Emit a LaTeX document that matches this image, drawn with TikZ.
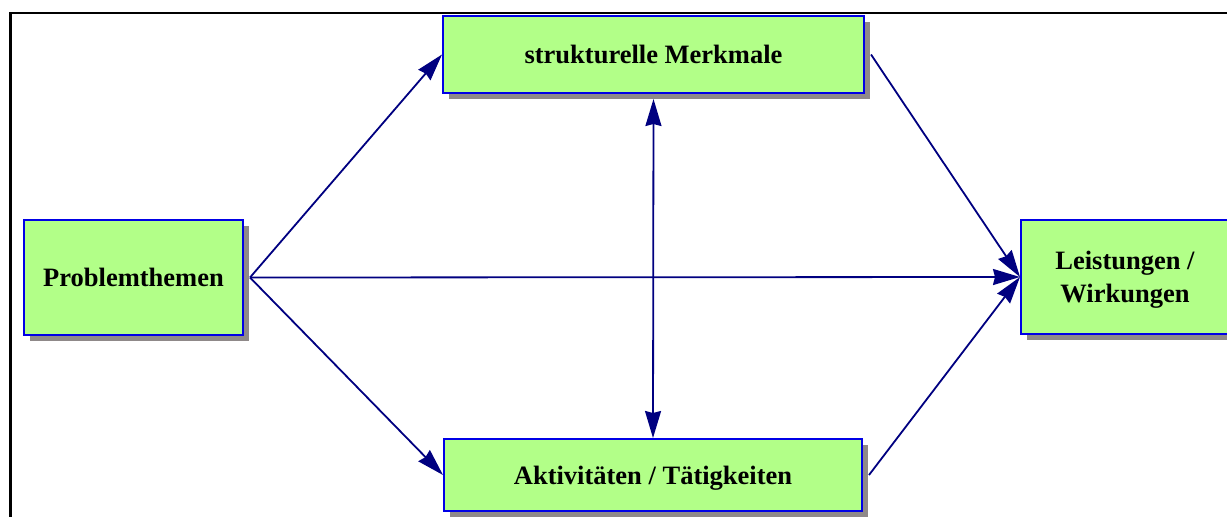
\documentclass[tikz,border=0pt]{standalone}
\usepackage{fontspec}
\setmainfont{Liberation Serif}
\usetikzlibrary{arrows.meta,shadows}
\definecolor{boxgreen}{RGB}{178,255,136}
\definecolor{boxblue}{RGB}{0,0,230}
\definecolor{shadowgray}{RGB}{143,137,137}
\definecolor{arrownavy}{RGB}{0,0,128}
\tikzset{
  box/.style={draw=boxblue, line width=2pt, fill=boxgreen, inner sep=0pt, align=center,
    text depth=0pt,
    font=\fontsize{26.5}{33}\selectfont\bfseries,
    general shadow={fill=shadowgray, shadow xshift=6pt, shadow yshift=-6pt}},
  conn/.style={draw=arrownavy, line width=1.8pt, -{Stealth[length=27pt,width=16pt,inset=2pt]}},
  dconn/.style={draw=arrownavy, line width=1.8pt,
    {Stealth[length=27pt,width=16pt,inset=2pt]}-{Stealth[length=27pt,width=16pt,inset=2pt]}},
  frame/.style={draw=black, line width=2.5pt}
}
\begin{document}
\begin{tikzpicture}[x=1pt,y=-1pt]
\useasboundingbox (0,0) rectangle (1227,517);
\draw[frame] (10.5,530) -- (10.5,13) -- (1240,13);
\node[box, minimum width=219pt, minimum height=115pt] (P) at (133.5,277.5) {Problemthemen};
\node[box, minimum width=421pt, minimum height=77pt] (S) at (653.5,54.5) {strukturelle Merkmale};
\node[box, minimum width=418pt, minimum height=72pt] (A) at (653,475) {Aktivitäten / Tätigkeiten};
\node[box, minimum width=208pt, minimum height=114pt] (L) at (1125,277) {Leistungen /\\Wirkungen};
\draw[conn] ([xshift=6pt]P.east) -- (S.west);
\draw[conn] ([xshift=6pt]P.east) -- (A.west);
\draw[conn] ([xshift=6pt]P.east) -- (L.west);
\draw[conn] ([xshift=6pt]S.east) -- (L.west);
\draw[conn] ([xshift=6pt]A.east) -- (L.west);
\draw[dconn] ([yshift=-5pt]S.south) -- (A.north);
\end{tikzpicture}
\end{document}
